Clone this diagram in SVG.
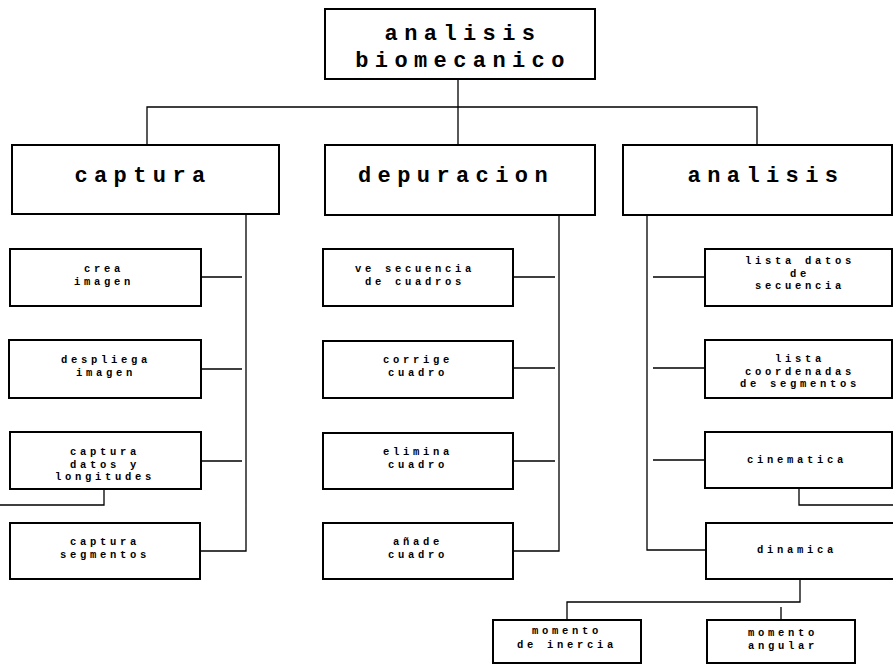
<svg xmlns="http://www.w3.org/2000/svg" width="893" height="665" viewBox="0 0 893 665">
<style>
.box{fill:#fff;stroke:#000;stroke-width:2}
.edge{fill:none;stroke:#000;stroke-width:1.3}
.h{font-family:"Liberation Mono",monospace;font-weight:bold;font-size:22px;letter-spacing:6.4px;text-anchor:middle;fill:#000}
.s{font-family:"Liberation Mono",monospace;font-weight:bold;font-size:10.5px;letter-spacing:3.7px;text-anchor:middle;fill:#000}
</style>
<rect width="893" height="665" fill="#fff"/>
<g id="connectors">
<path class="edge" d="M458 79V145M147 145V107H757V145"/>
<path class="edge" d="M246 214V551H200M201 277H242M201 369H242M201 461H242M104 489V505H0"/>
<path class="edge" d="M559 215V551H513M513 277H555M513 368H555M513 461H555"/>
<path class="edge" d="M647 215V550H705M653 277H705M653 368H705M653 460H705M799 488V505H893"/>
<path class="edge" d="M800 579V602H567V620M781 607V620"/>
</g>
<g id="root"><rect class="box" x="325" y="9" width="270" height="70"/><text class="h" x="463" y="40">analisis</text><text class="h" x="463" y="67">biomecanico</text></g>
<g id="captura"><rect class="box" x="12" y="145" width="267" height="69"/><text class="h" x="143" y="182">captura</text></g>
<g id="depuracion"><rect class="box" x="325" y="145" width="270" height="70"/><text class="h" x="456" y="182">depuracion</text></g>
<g id="analisis"><rect class="box" x="623" y="145" width="269" height="70"/><text class="h" x="766" y="182">analisis</text></g>
<g id="crea"><rect class="box" x="10" y="249" width="191" height="57"/><text class="s" x="104" y="272">crea</text><text class="s" x="104" y="285">imagen</text></g>
<g id="despliega"><rect class="box" x="9" y="340" width="192" height="58"/><text class="s" x="106" y="363">despliega</text><text class="s" x="106" y="375.5">imagen</text></g>
<g id="captura-datos"><rect class="box" x="10" y="432" width="191" height="57"/><text class="s" x="105" y="455">captura</text><text class="s" x="105" y="467.5">datos y</text><text class="s" x="105" y="480">longitudes</text></g>
<g id="captura-segmentos"><rect class="box" x="10" y="523" width="190" height="56"/><text class="s" x="105" y="545">captura</text><text class="s" x="105" y="557.5">segmentos</text></g>
<g id="ve-secuencia"><rect class="box" x="323" y="249" width="190" height="57"/><text class="s" x="415" y="272">ve secuencia</text><text class="s" x="415" y="285">de cuadros</text></g>
<g id="corrige"><rect class="box" x="323" y="341" width="190" height="57"/><text class="s" x="418" y="363">corrige</text><text class="s" x="418" y="376">cuadro</text></g>
<g id="elimina"><rect class="box" x="323" y="433" width="190" height="56"/><text class="s" x="418" y="455">elimina</text><text class="s" x="418" y="467.5">cuadro</text></g>
<g id="anade"><rect class="box" x="323" y="523" width="190" height="56"/><text class="s" x="418" y="545">añade</text><text class="s" x="418" y="557.5">cuadro</text></g>
<g id="lista-datos"><rect class="box" x="705" y="249" width="187" height="57"/><text class="s" x="800" y="264">lista datos</text><text class="s" x="800" y="276.5">de</text><text class="s" x="800" y="289">secuencia</text></g>
<g id="lista-coordenadas"><rect class="box" x="705" y="340" width="187" height="58"/><text class="s" x="800" y="362">lista</text><text class="s" x="800" y="374.5">coordenadas</text><text class="s" x="800" y="387">de segmentos</text></g>
<g id="cinematica"><rect class="box" x="705" y="432" width="187" height="56"/><text class="s" x="797" y="463">cinematica</text></g>
<g id="dinamica"><rect class="box" x="706" y="523" width="190" height="56"/><text class="s" x="797" y="553">dinamica</text></g>
<g id="momento-inercia"><rect class="box" x="493" y="620" width="148" height="43"/><text class="s" x="567" y="634">momento</text><text class="s" x="567" y="648">de inercia</text></g>
<g id="momento-angular"><rect class="box" x="707" y="620" width="148" height="43"/><text class="s" x="783" y="636">momento</text><text class="s" x="783" y="649">angular</text></g>
</svg>
